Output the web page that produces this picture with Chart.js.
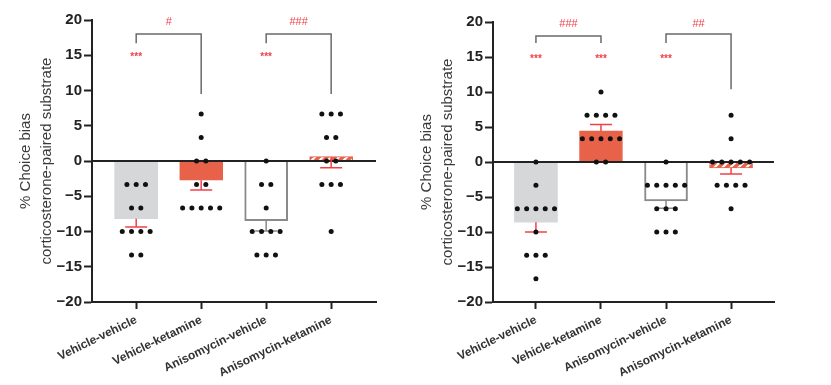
<!DOCTYPE html>
<html>
<head>
<meta charset="utf-8">
<script src="https://cdn.jsdelivr.net/npm/chart.js@4/dist/chart.umd.min.js"></script>
<style>
  body { margin: 0; background: #fff; }
  .panel { position: absolute; top: 0; height: 385px; }
</style>
</head>
<body>
<div class="panel" style="left:0;width:410px"><canvas id="chartA"></canvas></div>
<div class="panel" style="left:410px;width:421px"><canvas id="chartB"></canvas></div>
<script>
const groups = ['Vehicle-vehicle', 'Vehicle-ketamine', 'Anisomycin-vehicle', 'Anisomycin-ketamine'];
const yTicks = [-20, -15, -10, -5, 0, 5, 10, 15, 20];

// panel a: % choice bias per animal
const aVehVeh = [-3.33, -3.33, -3.33, -6.67, -6.67, -10, -10, -10, -10, -13.33, -13.33];
const aVehKet = [6.67, 3.33, 0, 0, -3.33, -3.33, -6.67, -6.67, -6.67, -6.67, -6.67];
const aAniVeh = [0, -3.33, -3.33, -6.67, -10, -10, -10, -10, -13.33, -13.33, -13.33];
const aAniKet = [6.67, 6.67, 6.67, 3.33, 3.33, 0, 0, -3.33, -3.33, -3.33, -10];
const aMeans = [-8.18, -2.73, -8.48, 0.61];
const aSem = [1.17, 1.37, 1.45, 1.56];
const aErrDir = [-1, -1, -1, -1];
const aStars = [0, 2];
const aBrackets = [
  { from: 0, to: 1, top: 18, leftEnd: 16.7, rightEnd: 9.5, label: '#' },
  { from: 2, to: 3, top: 18, leftEnd: 16.7, rightEnd: 9.5, label: '###' }
];

// panel b
const bVehVeh = [0, -3.33, -6.67, -6.67, -6.67, -6.67, -6.67, -10, -13.33, -13.33, -13.33, -16.67];
const bVehKet = [10, 6.67, 6.67, 6.67, 6.67, 3.33, 3.33, 3.33, 3.33, 3.33, 0, 0];
const bAniVeh = [0, -3.33, -3.33, -3.33, -3.33, -3.33, -6.67, -6.67, -6.67, -10, -10, -10];
const bAniKet = [6.67, 3.33, 0, 0, 0, 0, 0, -3.33, -3.33, -3.33, -3.33, -6.67];
const bMeans = [-8.61, 4.44, -5.56, -0.83];
const bSem = [1.39, 0.9, 1.05, 0.9];
const bErrDir = [-1, 1, -1, -1];
const bStars = [0, 1, 2];
const bBrackets = [
  { from: 0, to: 1, top: 18, leftEnd: 17, rightEnd: 17, label: '###' },
  { from: 2, to: 3, top: 18.3, leftEnd: 17, rightEnd: 10.4, label: '##' }
];

const ORANGE = '#e8624a';
const RED = '#f2404a';
const FONT = "'Liberation Sans', Arial, sans-serif";

function hatch() {
  const c = document.createElement('canvas');
  c.width = 8; c.height = 8;
  const g = c.getContext('2d');
  g.fillStyle = ORANGE;
  g.fillRect(0, 0, 8, 8);
  g.strokeStyle = '#fff';
  g.lineWidth = 2.2;
  g.beginPath();
  g.moveTo(-2, 10); g.lineTo(10, -2);
  g.moveTo(-6, 6); g.lineTo(6, -6);
  g.moveTo(2, 14); g.lineTo(14, 2);
  g.stroke();
  return g.createPattern(c, 'repeat');
}

// spread animals with the same value side by side
function swarm(lists) {
  const pts = [];
  lists.forEach((vals, gi) => {
    const counts = {};
    vals.forEach(v => counts[v] = (counts[v] || 0) + 1);
    const seen = {};
    vals.forEach(v => {
      const i = seen[v] = (seen[v] || 0) + 1;
      pts.push({ x: gi + (i - 1 - (counts[v] - 1) / 2) * 0.143, y: v });
    });
  });
  return pts;
}

const overlay = {
  id: 'overlay',
  afterDatasetDraw(chart, args, o) {
    if (args.index !== 0) return;
    const { ctx, chartArea: ca, scales: { x, y } } = chart;
    ctx.save();
    ctx.strokeStyle = '#222';
    ctx.lineWidth = 2;
    ctx.beginPath();
    ctx.moveTo(ca.left, y.getPixelForValue(0));
    ctx.lineTo(ca.right, y.getPixelForValue(0));
    ctx.stroke();
    o.means.forEach((m, i) => {
      const px = x.getPixelForValue(i);
      const y0 = y.getPixelForValue(m);
      const y1 = y.getPixelForValue(m + o.dir[i] * o.sem[i]);
      ctx.strokeStyle = i === 2 ? '#8a8a8a' : RED;
      ctx.lineWidth = 1.5;
      ctx.beginPath();
      ctx.moveTo(px, y0); ctx.lineTo(px, y1);
      ctx.moveTo(px - 11, y1); ctx.lineTo(px + 11, y1);
      ctx.stroke();
    });
    ctx.restore();
  },
  afterDatasetsDraw(chart, args, o) {
    const { ctx, scales: { x, y } } = chart;
    ctx.save();
    ctx.textAlign = 'center';
    ctx.textBaseline = 'middle';
    ctx.fillStyle = RED;
    ctx.font = 'bold 10px ' + FONT;
    o.stars.forEach(i => ctx.fillText('***', x.getPixelForValue(i), y.getPixelForValue(15) + 2));
    o.brackets.forEach(b => {
      const xl = x.getPixelForValue(b.from), xr = x.getPixelForValue(b.to);
      ctx.strokeStyle = '#6a6a6a';
      ctx.lineWidth = 1.5;
      ctx.beginPath();
      ctx.moveTo(xl, y.getPixelForValue(b.leftEnd));
      ctx.lineTo(xl, y.getPixelForValue(b.top));
      ctx.lineTo(xr, y.getPixelForValue(b.top));
      ctx.lineTo(xr, y.getPixelForValue(b.rightEnd));
      ctx.stroke();
      ctx.fillStyle = RED;
      ctx.font = '11px ' + FONT;
      ctx.fillText(b.label, (xl + xr) / 2, y.getPixelForValue(19.7));
    });
    ctx.restore();
  }
};

function makeChart(id, lists, means, sem, dir, stars, brackets, lay) {
  new Chart(document.getElementById(id), {
    data: {
      datasets: [
        {
          type: 'bar',
          order: 2,
          data: means.map((m, i) => ({ x: i, y: m })),
          barThickness: 43,
          backgroundColor: ['#d6d7d9', ORANGE, '#ffffff', hatch()],
          borderColor: ['#d6d7d9', ORANGE, '#8a8a8a', ORANGE],
          borderWidth: [0, 1, 2, 1]
        },
        {
          type: 'scatter',
          order: 1,
          data: swarm(lists),
          pointRadius: 2.5,
          pointBackgroundColor: '#111',
          pointBorderWidth: 0
        }
      ]
    },
    options: {
      responsive: true,
      maintainAspectRatio: false,
      animation: false,
      layout: { padding: { left: 0, right: lay.right, top: lay.top, bottom: 0 } },
      plugins: {
        legend: { display: false },
        tooltip: { enabled: false },
        overlay: { means, sem, dir, stars, brackets }
      },
      scales: {
        x: {
          type: 'linear',
          offset: false,
          min: lay.xmin,
          max: lay.xmax,
          afterBuildTicks: s => { s.ticks = groups.map((g, i) => ({ value: i })); },
          afterFit: s => { s.height = 83; },
          ticks: {
            callback: v => groups[v],
            minRotation: 26,
            maxRotation: 26,
            padding: 4,
            color: '#333',
            font: { family: FONT, size: 12, weight: 'bold' }
          },
          grid: { drawOnChartArea: false, offset: false, tickLength: 7, tickColor: '#222', tickWidth: 2 },
          border: { color: '#222', width: 2 }
        },
        y: {
          min: -20,
          max: 20,
          afterBuildTicks: s => { s.ticks = yTicks.map(v => ({ value: v })); },
          afterFit: s => { s.width = lay.yWidth; },
          ticks: {
            callback: v => v < 0 ? '\u2212' + Math.abs(v) : String(v),
            padding: 2,
            color: '#222',
            font: { family: FONT, size: 15, weight: 'bold' }
          },
          grid: { drawOnChartArea: false, tickLength: 8, tickColor: '#222', tickWidth: 2 },
          border: { color: '#222', width: 2 },
          title: {
            display: true,
            text: ['% Choice bias', 'corticosterone-paired substrate'],
            color: '#3a3a3a',
            padding: { top: lay.titlePad, bottom: 0 },
            font: { family: FONT, size: 15, lineHeight: 1.4 }
          }
        }
      }
    },
    plugins: [overlay]
  });
}

makeChart('chartA', [aVehVeh, aVehKet, aAniVeh, aAniKet], aMeans, aSem, aErrDir, aStars, aBrackets,
  { right: 34, top: 20, xmin: -0.68, xmax: 3.69, yWidth: 92, titlePad: 15 });
makeChart('chartB', [bVehVeh, bVehKet, bAniVeh, bAniKet], bMeans, bSem, bErrDir, bStars, bBrackets,
  { right: 57, top: 22, xmin: -0.66, xmax: 3.66, yWidth: 83, titlePad: 6 });
</script>
</body>
</html>
